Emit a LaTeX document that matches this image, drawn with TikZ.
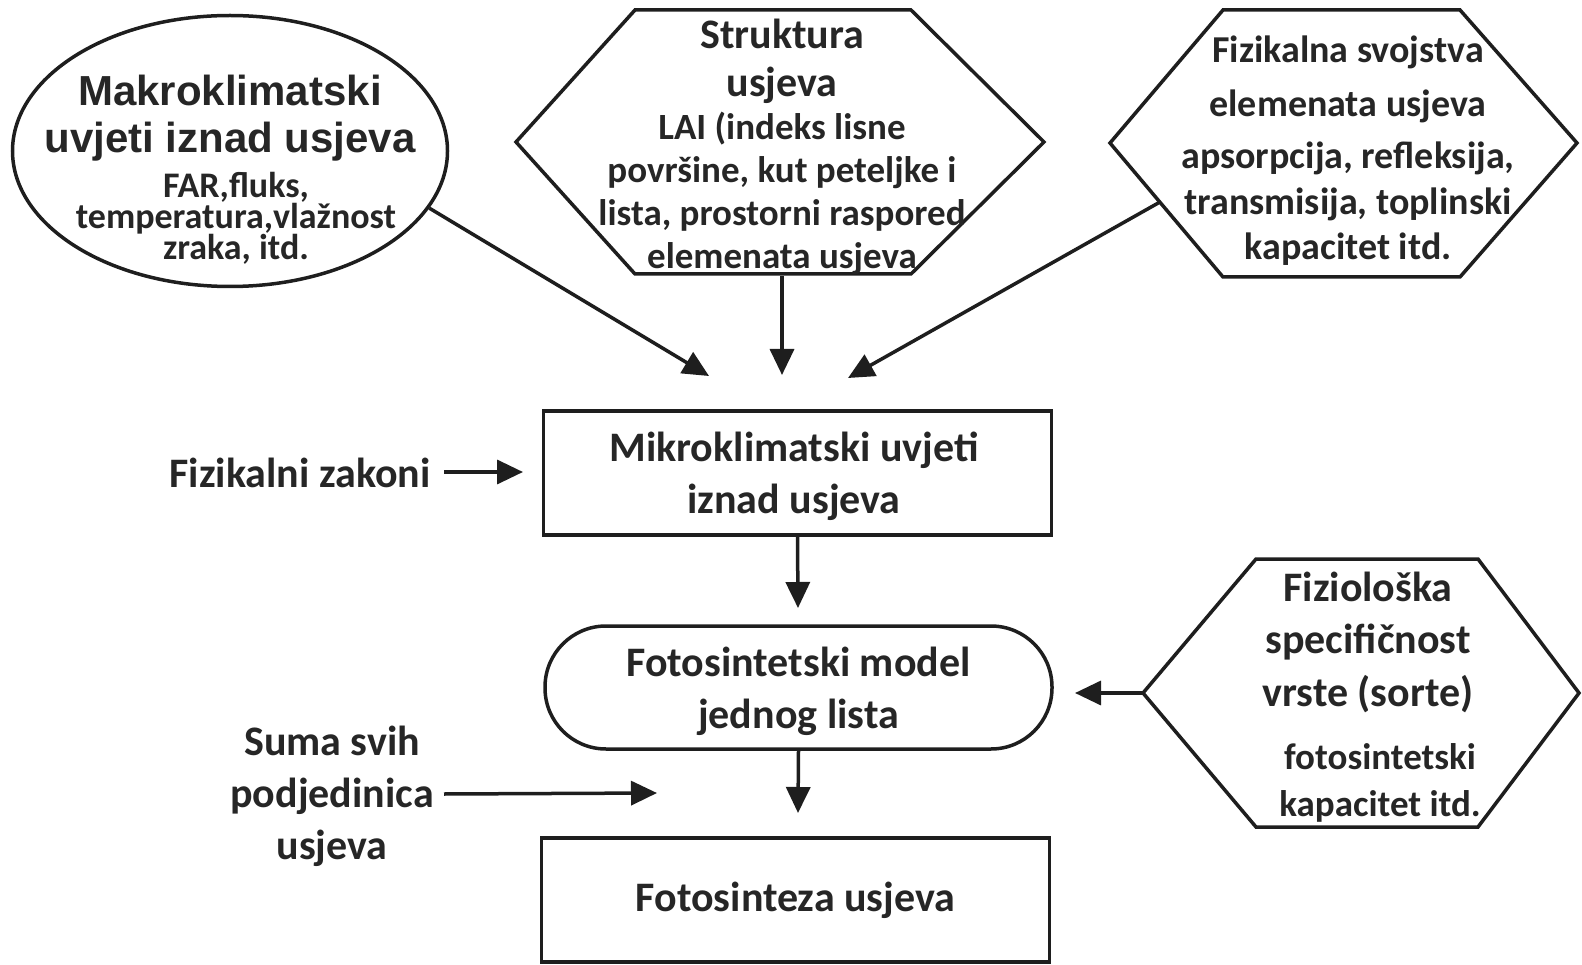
\documentclass[tikz,border=0pt]{standalone}
\usepackage{fontspec}
\setmainfont{Carlito}
\newfontfamily\arialf{Liberation Sans}
\usetikzlibrary{arrows.meta,shapes.geometric}
\definecolor{ink}{HTML}{1E1E1E}
\definecolor{txt}{HTML}{262626}
\newcommand{\tightfont}[2]{\fontsize{#1}{#2}\selectfont\bfseries\lineskiplimit=-100pt\lineskip=0pt}
\begin{document}
\begin{tikzpicture}[x=1pt,y=-1pt,
  shapeline/.style={draw=ink, line width=3.5pt},
  arr/.style={draw=ink, line width=3.5pt, -{Triangle[length=26pt,width=24pt]}},
  big/.style={font=\tightfont{42}{52}, text=txt, align=center, inner sep=0pt},
  small/.style={font=\tightfont{37}{43}, text=txt, align=center, inner sep=0pt},
  boxnode/.style={shapeline, rectangle, minimum width=508pt, minimum height=124pt, inner sep=0pt}
]
\useasboundingbox (0,0) rectangle (1582,965);

% ---- ellipse: Makroklimatski
\node[shapeline, ellipse, minimum width=435pt, minimum height=271pt, inner sep=0pt] (mak) at (230,151) {};
\node[font={\arialf\tightfont{42}{47}}, text=txt, align=center, inner sep=0pt] (makt) at (230,118) {Makroklimatski\\uvjeti iznad usjeva};
\node[font=\tightfont{36}{31}, text=txt, align=center, inner sep=0pt] (makd) at (236,218) {FAR,fluks,\\temperatura,vlažnost\\zraka, itd.};

% ---- hexagon: Struktura
\draw[shapeline] (635,10) -- (911,10) -- (1044,142) -- (911,274) -- (635,274) -- (516,142) -- cycle;
\node[font=\tightfont{42}{48}, text=txt, align=center, inner sep=0pt] (strt) at (782,61) {Struktura\\usjeva};
\node[font=\tightfont{37}{43}, text=txt, align=center, inner sep=0pt] (strd) at (782,193) {LAI (indeks lisne\\površine, kut peteljke i\\lista, prostorni raspored\\elemenata usjeva};
\coordinate (strB) at (782,276);

% ---- hexagon: Fizikalna svojstva
\draw[shapeline] (1223,10) -- (1460,10) -- (1577,143) -- (1460,277) -- (1223,277) -- (1110,143) -- cycle;
\node[font=\tightfont{38}{54}, text=txt, align=center, inner sep=0pt] (fizt) at (1348,79) {Fizikalna svojstva\\elemenata usjeva};
\node[font=\tightfont{38}{45.5}, text=txt, align=center, inner sep=0pt] (fizd) at (1348,204) {apsorpcija, refleksija,\\transmisija, toplinski\\kapacitet itd.};
\coordinate (fizS) at (1160,202);

% ---- hexagon: Fiziološka
\draw[shapeline] (1256,559) -- (1478,559) -- (1579,693) -- (1478,827) -- (1256,827) -- (1143,693) -- cycle;
\node[font=\tightfont{42}{52.5}, text=txt, align=center, inner sep=0pt] (fiot) at (1368,642) {Fiziološka\\specifičnost\\vrste (sorte)};
\node[font=\tightfont{37}{47}, text=txt, align=center, inner sep=0pt] (fiod) at (1380,783) {fotosintetski\\kapacitet itd.};
\coordinate (fioW) at (1143,693);

% ---- central chain
\node[boxnode] (mikro) at (797.5,473) {};
\node[big] (mikrot) at (794,476) {Mikroklimatski uvjeti\\iznad usjeva};
\node[shapeline, rectangle, rounded corners=61pt, minimum width=507pt, minimum height=123pt, inner sep=0pt] (model) at (798.5,687.5) {};
\node[big] (modelt) at (798.5,691.5) {Fotosintetski model\\jednog lista};
\node[boxnode, big] (fotos) at (795.5,900) {Fotosinteza usjeva};

% ---- side labels
\node[big] (fz) at (300,473) {Fizikalni zakoni};
\node[big] (suma) at (332,796) {Suma svih\\podjedinica\\usjeva};

% ---- free arrow ends
\coordinate (t1) at (709,376);
\coordinate (t2) at (782,375);
\coordinate (t3) at (848,378);
\coordinate (fzS) at (444,472);
\coordinate (fzT) at (523,472);
\coordinate (t5) at (798,608);
\coordinate (t6) at (798,813);
\coordinate (t7) at (1075,693);
\coordinate (sumS) at (444,794);
\coordinate (sumT) at (657,793);

% ---- connectors
\draw[arr] (mak.-16) -- (t1);
\draw[arr] (strB) -- (t2);
\draw[arr] (fizS) -- (t3);
\draw[arr] (fzS) -- (fzT);
\draw[arr] (mikro.south) -- (t5);
\draw[arr] (model.south) -- (t6);
\draw[arr] (fioW) -- (t7);
\draw[arr] (sumS) -- (sumT);
\end{tikzpicture}
\end{document}
